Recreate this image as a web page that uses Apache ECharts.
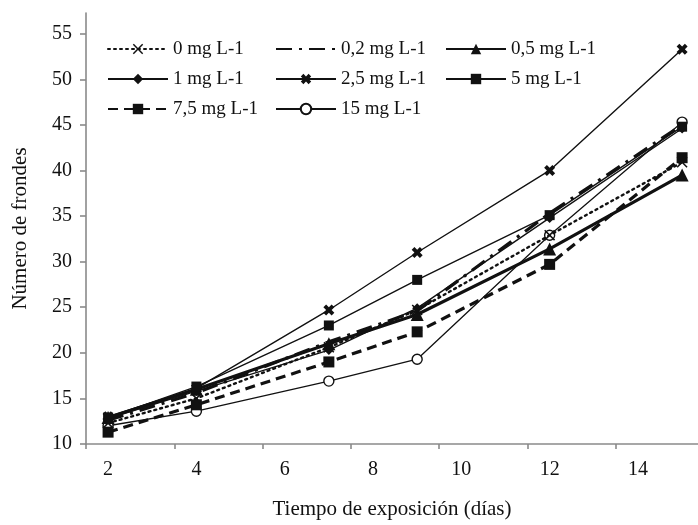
<!DOCTYPE html>
<html>
<head>
<meta charset="utf-8">
<script src="https://cdn.jsdelivr.net/npm/echarts@6/dist/echarts.min.js"></script>
<style>html,body{margin:0;padding:0;background:#fff;}#c{width:698px;height:525px;}</style>
</head>
<body>
<div id="c"></div>
<script>
// Data
const days = [2, 4, 7, 9, 12, 15];
const seriesNames = ['0 mg L-1', '0,2 mg L-1', '0,5 mg L-1', '1 mg L-1', '2,5 mg L-1', '5 mg L-1', '7,5 mg L-1', '15 mg L-1'];
const s0   = [12.3, 15.0, 20.6, 24.7, 32.9, 40.9];
const s02  = [12.6, 15.6, 21.2, 24.6, 35.3, 45.0];
const s05  = [12.9, 16.0, 21.0, 24.2, 31.4, 39.5];
const s1   = [12.8, 15.8, 20.3, 24.9, 34.8, 44.6];
const s25  = [13.0, 16.1, 24.7, 31.0, 40.0, 53.3];
const s5   = [12.9, 16.3, 23.0, 28.0, 35.1, 44.8];
const s75  = [11.3, 14.3, 19.0, 22.3, 29.7, 41.4];
const s15  = [12.0, 13.6, 16.9, 19.3, 32.9, 45.3];
const xTickValues = [1.5, 3.5, 5.5, 7.5, 9.5, 11.5, 13.5];
const xLabelValues = [2, 4, 6, 8, 10, 12, 14];
const yTickValues = [10, 15, 20, 25, 30, 35, 40, 45, 50, 55];

const FONT = '"Liberation Serif", "Times New Roman", serif';
const INK = '#111';
const thinX = 'path://M0,1 L1,0 L5,4 L9,0 L10,1 L6,5 L10,9 L9,10 L5,6 L1,10 L0,9 L4,5 Z';
const boldX = 'path://M0,2.5 L2.5,0 L5,2.5 L7.5,0 L10,2.5 L7.5,5 L10,7.5 L7.5,10 L5,7.5 L2.5,10 L0,7.5 L2.5,5 Z';

function pairs(vals) { return days.map((d, i) => [d, vals[i]]); }

const styles = [
  { vals: s0,  symbol: thinX,      size: 11, width: 2.4, type: [2, 4], cap: 'round', z: 3 },
  { vals: s02, symbol: 'none',     size: 0,  width: 3.2, type: [16, 7, 3, 7], cap: 'butt', z: 2 },
  { vals: s05, symbol: 'triangle', size: 13, width: 3.2, type: 'solid', cap: 'butt', z: 2 },
  { vals: s1,  symbol: 'diamond',  size: 10, width: 1.4, type: 'solid', cap: 'butt', z: 2 },
  { vals: s25, symbol: boldX,      size: 11, width: 1.4, type: 'solid', cap: 'butt', z: 2 },
  { vals: s5,  symbol: 'rect',     size: 10, width: 1.4, type: 'solid', cap: 'butt', z: 2 },
  { vals: s75, symbol: 'rect',     size: 11, width: 3.2, type: [10, 6], cap: 'butt', z: 2 },
  { vals: s15, symbol: 'circle',   size: 10, width: 1.3, type: 'solid', cap: 'butt', open: true, z: 1 }
];

const series = styles.map((st, i) => ({
  name: seriesNames[i],
  type: 'line',
  data: pairs(st.vals),
  symbol: st.symbol,
  symbolSize: st.size,
  showSymbol: st.symbol !== 'none',
  symbolKeepAspect: true,
  color: INK,
  itemStyle: st.open ? { color: '#fff', borderColor: INK, borderWidth: 1.4 } : { color: INK },
  lineStyle: { color: INK, width: st.width, type: st.type, cap: st.cap },
  emphasis: { disabled: true },
  animation: false,
  z: st.z
}));

function legendItem(idx) {
  if (styles[idx].symbol === 'none') {
    return { name: seriesNames[idx], itemStyle: { opacity: 0 } };
  }
  return { name: seriesNames[idx] };
}

function legendCol(idxs, left) {
  return {
    orient: 'vertical',
    left: left,
    top: 39,
    padding: 0,
    itemWidth: 60,
    itemHeight: 13,
    itemGap: 10,
    data: idxs.map(legendItem),
    selectedMode: false,
    textStyle: { fontFamily: FONT, fontSize: 19, color: INK, lineHeight: 20 }
  };
}

const option = {
  backgroundColor: '#fff',
  animation: false,
  legend: [
    legendCol([0, 3, 6], 107),
    legendCol([1, 4, 7], 275),
    legendCol([2, 5], 445)
  ],
  grid: { left: 86, right: 0, top: 13, bottom: 75, containLabel: false },
  xAxis: {
    type: 'value',
    min: 1.5,
    max: 15.36,
    name: 'Tiempo de exposición (días)',
    nameLocation: 'middle',
    nameGap: 55,
    nameTextStyle: { fontFamily: FONT, fontSize: 21, color: INK },
    splitLine: { show: false },
    axisLine: { show: true, lineStyle: { color: '#8a8a8a', width: 1.6 } },
    axisTick: { show: true, length: 5, customValues: xTickValues, lineStyle: { color: '#8a8a8a', width: 1.6 } },
    axisLabel: { customValues: xLabelValues, margin: 16, fontFamily: FONT, fontSize: 20, color: INK }
  },
  yAxis: {
    type: 'value',
    min: 10,
    max: 57.27,
    name: 'Número de frondes',
    nameLocation: 'middle',
    nameGap: 55,
    nameTextStyle: { fontFamily: FONT, fontSize: 21, color: INK },
    splitLine: { show: false },
    axisLine: { show: true, lineStyle: { color: '#8a8a8a', width: 1.6 } },
    axisTick: { show: true, length: 6, customValues: yTickValues, lineStyle: { color: '#8a8a8a', width: 1.6 } },
    axisLabel: { customValues: yTickValues, margin: 14, fontFamily: FONT, fontSize: 20, color: INK }
  },
  series: series
};

const chart = echarts.init(document.getElementById('c'), null, { renderer: 'canvas' });
chart.setOption(option);
</script>
</body>
</html>
